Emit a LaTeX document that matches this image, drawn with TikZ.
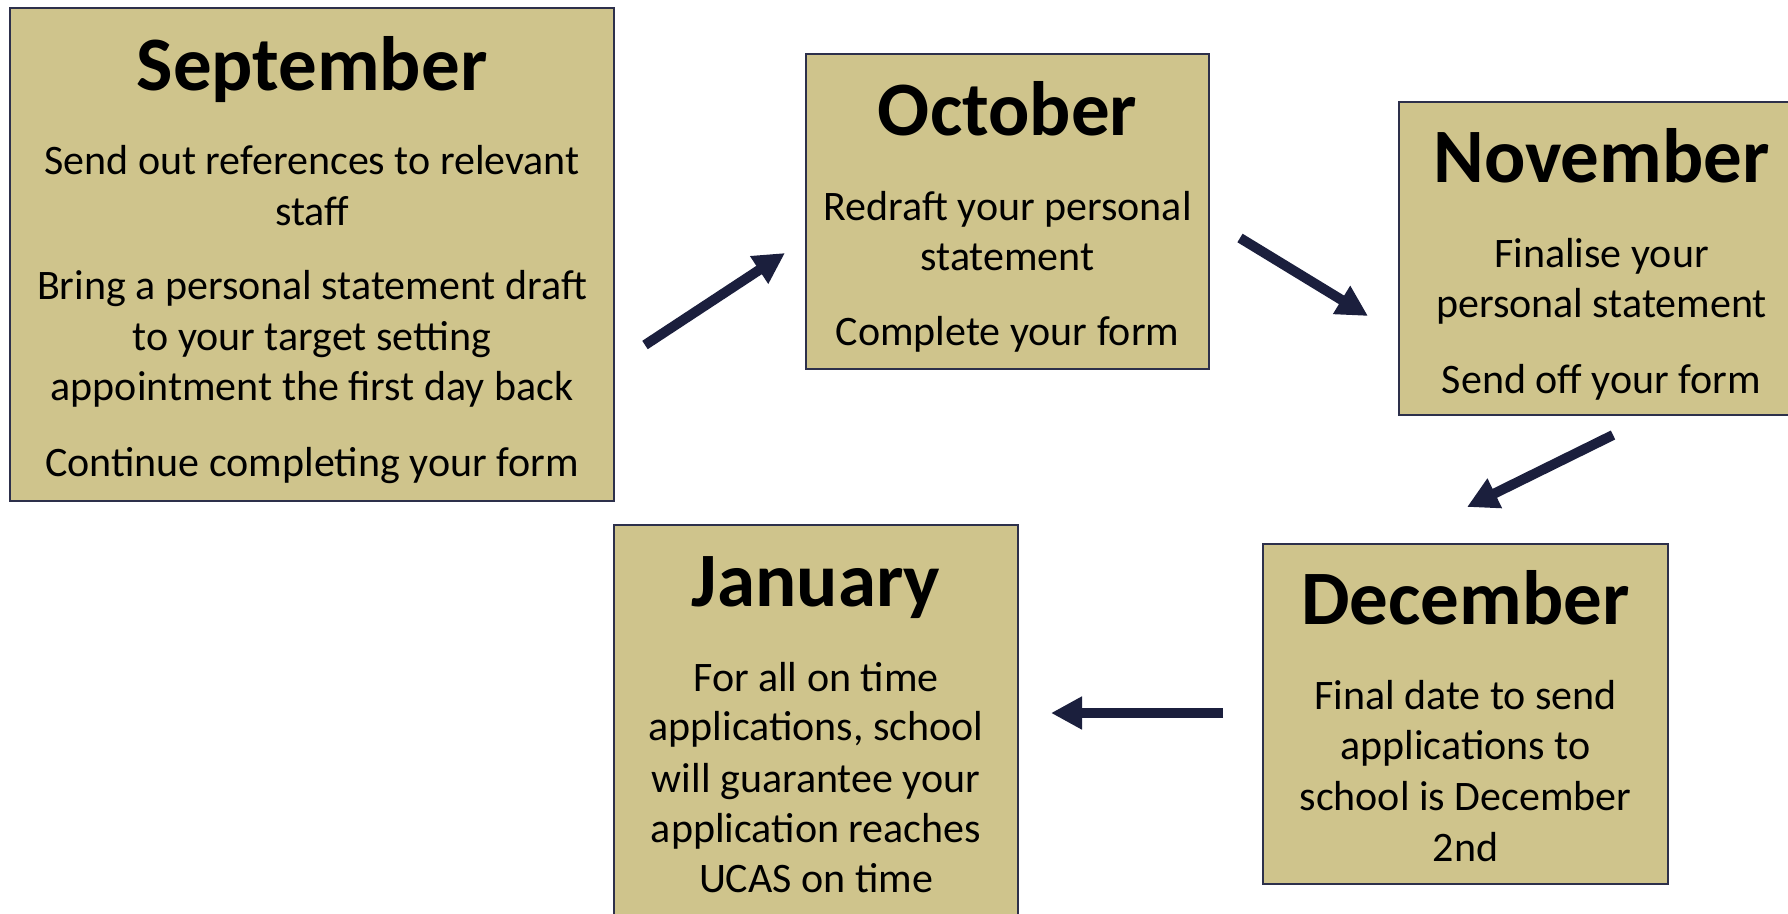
\documentclass[tikz,border=0pt]{standalone}
\usepackage{fontspec}
\setmainfont{Carlito}
\usetikzlibrary{arrows.meta}
\definecolor{boxfill}{RGB}{207,196,140}
\definecolor{boxline}{RGB}{45,48,75}
\definecolor{arrowcol}{RGB}{27,31,61}
\tikzset{
  box/.style={draw=boxline, line width=1.5pt, fill=boxfill, inner sep=0pt, outer sep=0pt, rectangle},
  ttl/.style={anchor=base, inner sep=0pt, font=\fontsize{77}{92}\selectfont\bfseries},
  body/.style={anchor=base, inner sep=0pt, font=\fontsize{42}{51}\selectfont},
  flow/.style={draw=arrowcol, line width=10pt, -{Triangle[length=31pt,width=31pt]}}
}
\begin{document}
\begin{tikzpicture}[x=1pt,y=-1pt]
\useasboundingbox (0,0) rectangle (1788,913);
\clip (0,0) rectangle (1788,913);
% boxes
\node[box, minimum width=604pt, minimum height=493pt] (sep) at (312,254.5) {};
\node[box, minimum width=403pt, minimum height=315pt] (oct) at (1007.5,211.5) {};
\node[box, minimum width=405pt, minimum height=313pt] (nov) at (1601.5,258.5) {};
\node[box, minimum width=405pt, minimum height=340pt] (dec) at (1465.5,714) {};
\node[box, minimum width=404pt, minimum height=405pt] (jan) at (816,727.5) {};
% September
\node[ttl] (septitle) at (312,90) {September};
\node[body] (sep1) at (312,174) {Send out references to relevant};
\node[body] (sep2) at (312,225) {staff};
\node[body] (sep3) at (312,299) {Bring a personal statement draft};
\node[body] (sep4) at (312,350) {to your target setting};
\node[body] (sep5) at (312,400) {appointment the first day back};
\node[body] (sep6) at (312,476) {Continue completing your form};
% October
\node[ttl] (octtitle) at (1007.5,135) {October};
\node[body] (oct1) at (1007.5,220) {Redraft your personal};
\node[body] (oct2) at (1007.5,270) {statement};
\node[body] (oct3) at (1007.5,345) {Complete your form};
% November
\node[ttl] (novtitle) at (1601.5,182) {November};
\node[body] (nov1) at (1601.5,267) {Finalise your};
\node[body] (nov2) at (1601.5,317) {personal statement};
\node[body] (nov3) at (1601.5,393) {Send off your form};
% December
\node[ttl] (dectitle) at (1465.5,624) {December};
\node[body] (dec1) at (1465.5,709) {Final date to send};
\node[body] (dec2) at (1465.5,759) {applications to};
\node[body] (dec3) at (1465.5,810) {school is December};
\node[body] (dec4) at (1465.5,861) {2nd};
% January
\node[ttl] (jantitle) at (816,606) {January};
\node[body] (jan1) at (816,691) {For all on time};
\node[body] (jan2) at (816,740) {applications, school};
\node[body] (jan3) at (816,792) {will guarantee your};
\node[body] (jan4) at (816,842) {application reaches};
\node[body] (jan5) at (816,892) {UCAS on time};
% arrow end points
\coordinate (a1s) at (645,345);
\coordinate (a1e) at (785,253);
\coordinate (a2s) at (1240,238);
\coordinate (a2e) at (1368,316);
\coordinate (a3s) at (1613,435);
\coordinate (a3e) at (1467,507);
\coordinate (a4s) at (1223,713);
\coordinate (a4e) at (1051,713);
\draw[flow] (a1s) -- (a1e);
\draw[flow] (a2s) -- (a2e);
\draw[flow] (a3s) -- (a3e);
\draw[flow] (a4s) -- (a4e);
\end{tikzpicture}
\end{document}
